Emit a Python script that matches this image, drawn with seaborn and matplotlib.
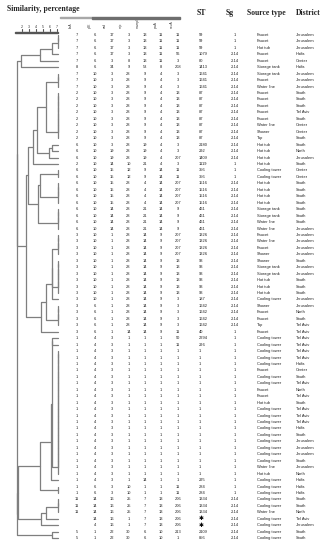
import numpy as np
import pandas as pd
import seaborn as sns
import matplotlib.pyplot as plt
from matplotlib.patches import Rectangle

# allele profiles (flaA pilE asd mip mompS proA neuA), one entry per distinct profile
loci = ["flaA", "pilE", "asd", "mip", "mompS", "proA", "neuA"]
profiles = [
    [7, 6, 17, 3, 13, 11, 11],
    [7, 6, 17, 3, 13, 11, 56],
    [7, 6, 3, 8, 13, 11, 3],
    [8, 6, 34, 9, 53, 8, 208],
    [7, 10, 3, 28, 9, 4, 3],
    [2, 10, 3, 28, 9, 4, 13],
    [6, 10, 3, 28, 19, 4, 3],
    [6, 10, 19, 28, 19, 4, 3],
    [6, 10, 19, 28, 19, 4, 207],
    [2, 10, 14, 10, 21, 4, 3],
    [6, 10, 15, 12, 9, 14, 11],
    [6, 10, 15, 28, 4, 14, 207],
    [6, 10, 14, 28, 21, 14, 9],
    [3, 10, 1, 28, 14, 9, 207],
    [3, 10, 1, 28, 14, 9, 13],
    [3, 10, 1, 28, 14, 9, 3],
    [3, 6, 1, 28, 14, 9, 3],
    [3, 6, 1, 14, 14, 9, 11],
    [1, 4, 3, 1, 1, 1, 50],
    [1, 4, 3, 1, 1, 1, 11],
    [1, 4, 3, 1, 1, 1, 1],
    [1, 4, 3, 1, 14, 1, 1],
    [1, 6, 3, 10, 1, 1, 11],
    [11, 14, 16, 25, 7, 13, 206],
    [None, 14, 16, 1, 7, 13, 206],
    [None, 4, 16, 1, 7, 13, 206],
    [5, 1, 22, 30, 6, 10, 213],
    [5, 1, 22, 30, 6, 10, 1],
]
profile_st = ["59", "1079", "80", "1413", "1641", "87", "2180", "292", "1409", "1119",
              "356", "1516", "461", "1326", "93", "187", "1642", "40", "2294", "296",
              "1", "295", "284", "1334", "\u2731", "\u2731", "2109", "856"]
profile_sg = ["1", "2-14", "2-14", "2-14", "2-14", "2-14", "2-14", "2-14", "2-14", "1",
              "1", "2-14", "2-14", "2-14", "2-14", "2-14", "2-14", "1", "1", "1",
              "1", "1", "1", "2-14", "2-14", "2-14", "2-14", "2-14"]
profile_count = [3, 1, 1, 1, 3, 8, 1, 1, 1, 1, 2, 4, 4, 4, 6, 1, 4, 1, 1, 1,
                 20, 1, 2, 3, 1, 1, 1, 1]

source = ["Faucet", "Faucet", "Hot tub", "Faucet", "Faucet", "Storage tank",
          "Storage tank", "Faucet", "Water line",
          "Faucet", "Faucet", "Faucet", "Faucet", "Faucet", "Water line", "Shower", "Tap",
          "Hot tub", "Hot tub", "Hot tub", "Hot tub",
          "Cooling tower", "Cooling tower",
          "Hot tub", "Hot tub", "Hot tub", "Hot tub",
          "Storage tank", "Storage tank", "Water line", "Water line",
          "Faucet", "Water line", "Faucet", "Shower",
          "Shower", "Storage tank", "Storage tank", "Hot tub", "Hot tub", "Hot tub",
          "Cooling tower", "Shower", "Faucet", "Faucet", "Tap", "Faucet",
          "Cooling tower", "Cooling tower",
          "Cooling tower", "Cooling tower", "Cooling tower", "Faucet", "Cooling tower",
          "Cooling tower", "Faucet", "Faucet", "Hot tub", "Cooling tower",
          "Cooling tower", "Cooling tower", "Cooling tower", "Cooling tower",
          "Cooling tower", "Cooling tower", "Cooling tower", "Cooling tower",
          "Water line", "Hot tub",
          "Cooling tower", "Cooling tower", "Cooling tower",
          "Cooling tower", "Cooling tower", "Water line",
          "Cooling tower", "Cooling tower", "Cooling tower", "Cooling tower"]
district = ["Jerusalem", "Jerusalem", "Jerusalem", "Haifa", "Center", "Haifa",
            "Jerusalem", "Jerusalem", "Jerusalem",
            "South", "South", "South", "Tel Aviv", "South", "Center", "Center", "South",
            "South", "North", "Jerusalem", "South",
            "Center", "Center",
            "South", "South", "South", "South",
            "South", "South", "South", "Jerusalem",
            "Jerusalem", "Jerusalem", "Jerusalem", "Jerusalem",
            "South", "Jerusalem", "Jerusalem", "South", "South", "South",
            "Jerusalem", "Jerusalem", "North", "South", "Tel Aviv", "Tel Aviv",
            "Tel Aviv", "Tel Aviv",
            "Tel Aviv", "Tel Aviv", "Haifa", "Center", "South",
            "Tel Aviv", "North", "Tel Aviv", "South", "Tel Aviv",
            "Tel Aviv", "Tel Aviv", "Haifa", "South",
            "Jerusalem", "Jerusalem", "Jerusalem", "South",
            "Jerusalem", "North",
            "Haifa", "Haifa", "Haifa",
            "South", "South", "North",
            "Tel Aviv", "Jerusalem", "South", "South"]

scale_labels = ["2", "3", "4", "5", "6", "7"]

# expand to one row per isolate
rows = []
for p, st, sg, c in zip(profiles, profile_st, profile_sg, profile_count):
    for _ in range(c):
        rows.append((p, st, sg))
n = len(rows)
alleles = np.array([[np.nan if v is None else v for v in r[0]] for r in rows], float)

# similarity = share of identical loci, UPGMA keeping the row order
sim = (alleles[:, None, :] == alleles[None, :, :]).sum(-1) / len(loci)
clusters = [{"m": [i], "y": float(i), "h": 1.0} for i in range(n)]
segs = []
while len(clusters) > 1:
    scores = [sim[np.ix_(clusters[j]["m"], clusters[j + 1]["m"])].mean()
              for j in range(len(clusters) - 1)]
    j = int(np.argmax(scores))
    a, b = clusters[j], clusters[j + 1]
    h = float(scores[j])
    segs.append(pd.DataFrame({"x": [a["h"], h, h, b["h"]],
                              "y": [a["y"], a["y"], b["y"], b["y"]],
                              "seg": len(segs)}))
    clusters[j:j + 2] = [{"m": a["m"] + b["m"], "y": (a["y"] + b["y"]) / 2, "h": h}]
seg_df = pd.concat(segs, ignore_index=True)

sns.set_theme(style="white")
plt.rcParams["font.family"] = ["Liberation Sans", "DejaVu Sans"]

W, H = 330, 550
Y0, DY = 35, 6.45
row_lim = ((H - Y0) / DY, -Y0 / DY)


def prow(py):
    return (py - Y0) / DY


fig = plt.figure(figsize=(3.3, 5.5), dpi=100)

# table axes in pixel x / row y
ax = fig.add_axes([0, 0, 1, 1])
ax.set_xlim(0, W)
ax.set_ylim(*row_lim)
ax.set_axis_off()

# dendrogram axes: x is similarity 0..1
axd = fig.add_axes([15 / W, 0, 43 / W, 1])
axd.patch.set_visible(False)
sns.lineplot(data=seg_df, x="x", y="y", units="seg", estimator=None, sort=False,
             color="#7f7f7f", linewidth=0.9, ax=axd, legend=False)
axd.set_xlim(0, 1)
axd.set_ylim(*row_lim)
axd.set_axis_off()
for line in axd.get_lines():
    line.set_clip_on(False)

# scale bar
ticks = np.linspace(0.16, 0.98, len(scale_labels))
axd.add_patch(Rectangle((0, prow(31.5)), 1, 1.0 / DY, color="#555555", clip_on=False))
for t, lab in zip(ticks, scale_labels):
    axd.plot([t, t], [prow(31), prow(29.2)], color="#555555", linewidth=0.8, clip_on=False)
    axd.text(t, prow(28.6), lab, fontsize=2.6, ha="center", va="bottom", color="#333333")

serif = ["Liberation Serif", "DejaVu Serif"]
ax.text(7, prow(9), "Similarity, percentage", fontsize=5.6, fontweight="bold",
        family=serif, va="center", ha="left")
for x, lab in [(197, "ST"), (226, "Sg"), (247, "Source type"), (296, "District")]:
    ax.text(x, prow(13), lab, fontsize=5.6, fontweight="bold", family=serif,
            va="center", ha="left")

# grey character-set bar above the allele columns
ax.add_patch(Rectangle((60, prow(16.5)), 32, 1.2 / DY, color="#a8a8a8", zorder=5))
ax.add_patch(Rectangle((92, prow(17)), 88, 2.4 / DY, color="#6e6e6e", zorder=5))

col_x = [77, 95, 112, 128.5, 145, 161, 178]
head_x = [71, 90, 105, 121, 138, 156, 172]
for x, lab in zip(head_x, loci):
    ax.text(x, prow(28), lab, fontsize=2.3, rotation=90, ha="center", va="bottom",
            color="#333333")

for i, (p, st, sg) in enumerate(rows):
    for x, v in zip(col_x, p):
        if v is not None:
            ax.text(x, i, str(v), fontsize=2.9, ha="center", va="center", color="#222222")
    if st == "\u2731":
        ax.text(199, i, st, fontsize=4.2, ha="left", va="center", color="black",
                family=["DejaVu Sans"])
    else:
        ax.text(199, i, st, fontsize=2.9, ha="left", va="center", color="#222222")
    ax.text(235, i, sg, fontsize=2.9, ha="center", va="center", color="#222222")
    ax.text(257, i, source[i], fontsize=2.9, ha="left", va="center", color="#222222")
    ax.text(296, i, district[i], fontsize=2.9, ha="left", va="center", color="#222222")

fig.savefig("out.png", dpi=100)
